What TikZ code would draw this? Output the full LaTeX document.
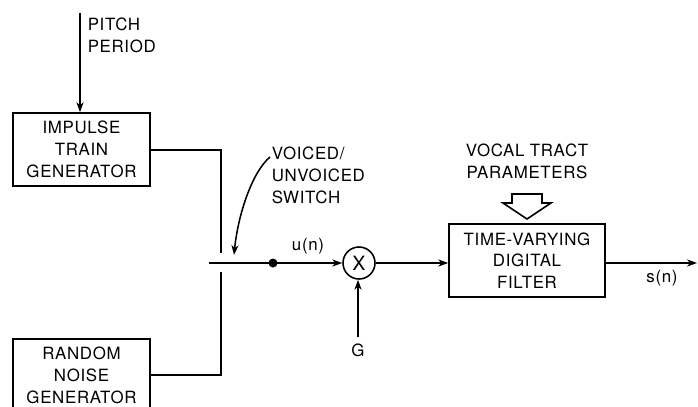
\documentclass[tikz,border=0pt]{standalone}
\usepackage{fontspec}
\setmainfont[LetterSpace=4]{TeX Gyre Heros}
\usetikzlibrary{arrows.meta, positioning, calc}

\begin{document}
\begin{tikzpicture}[x=0.025cm, y=-0.025cm, line width=1.1pt,
  font=\fontsize{12}{15.5}\selectfont,
  block/.style={draw, line width=1.1pt, minimum width=3.425cm, minimum height=1.825cm, align=center, inner sep=0pt},
  sig/.style={-{Stealth[length=7pt, width=5pt, inset=2pt]}},
  lbl/.style={align=left, anchor=west, inner sep=0pt}]
  \useasboundingbox (0,0) rectangle (698,407);

  % Source generators
  \node[block] (imp) at (81.5,149.5) {IMPULSE\\TRAIN\\GENERATOR};
  \node[block] (noise) at (81.5,375.5) {RANDOM\\NOISE\\GENERATOR};

  % Pitch period input
  \coordinate (pitchtop) at (80,13);
  \draw[sig] (pitchtop) -- (pitchtop |- imp.north);
  \node[lbl] (pitch) at (87,35.5) {PITCH\\PERIOD};

  % Voiced/unvoiced switch
  \coordinate (swtop) at (221,253);
  \coordinate (swbot) at (221,272);
  \coordinate (swin) at (209,263);
  \draw (imp.east |- 0,150) -- (221,150) -- (swtop);
  \draw (noise.east |- 0,375) -- (221,375) -- (swbot);
  \node[lbl] (swlbl) at (271,175.5) {VOICED/\\UNVOICED\\SWITCH};
  \coordinate (swtail) at (270,157);
  \coordinate (swtip) at (234,255);
  \draw[sig] (swtail) .. controls (252,172) and (238,215) .. (swtip);

  % Excitation and gain
  \node[draw, circle, minimum size=0.8cm, inner sep=0pt, font=\fontsize{14}{16}\selectfont] (mult) at (359,263) {X};
  \fill (273,263) circle (4.5) coordinate (udot);
  \draw[sig] (swin) -- (mult.west);
  \node (ulbl) at (308,246) {u(n)};
  \coordinate (gain) at (358,337);
  \draw[sig] (gain) -- (gain |- mult.south);
  \node (glbl) at (358,350) {G};

  % Vocal tract filter
  \node[block, minimum width=3.9cm] (filt) at (527,260.5) {TIME-VARYING\\DIGITAL\\FILTER};
  \draw[sig] (mult.east) -- (filt.west |- mult.east);
  \node[align=center] (vtp) at (527,161.5) {VOCAL TRACT\\PARAMETERS};
  \draw (512,194) -- (542,194) -- (542,203) -- (551,203) -- (527,219)
    -- (503,203) -- (512,203) -- cycle;

  % Output
  \coordinate (out) at (697,263);
  \draw[sig] (filt.east |- out) -- (out);
  \node (slbl) at (662,278) {s(n)};
\end{tikzpicture}
\end{document}
